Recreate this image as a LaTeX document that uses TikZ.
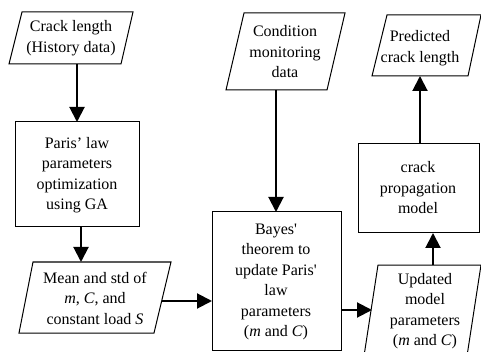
\documentclass[tikz,border=0pt]{standalone}
\usepackage{fontspec}
\setmainfont{Liberation Serif}
\usetikzlibrary{arrows.meta}
\begin{document}
\begin{tikzpicture}[x=1pt,y=-1pt,
  shape edge/.style={draw=black,line width=1pt,line join=miter},
  boxtext/.style={align=center,inner sep=0pt,font=\fontsize{16}{20.5}\selectfont},
  flow/.style={line width=2pt,-{Triangle[length=15pt,width=15pt]}}]
\useasboundingbox (0,0) rectangle (481,352);

% data inputs and outputs (parallelograms)
\draw[shape edge] (22,12) -- (133,12) -- (121,64) -- (9,64) -- cycle;
\node[boxtext] (hist) at (71,38) {Crack length\\(History data)};
\coordinate (histOut) at (77,64);

\draw[shape edge] (33,262) -- (171,262) -- (154,333) -- (19,333) -- cycle;
\node[boxtext] (meanstd) at (95,298) {Mean and std of\\\textit{m}, \textit{C}, and\\constant load \textit{S}};
\coordinate (meanIn) at (81,262);
\coordinate (meanOut) at (162,301);

\draw[shape edge] (244,13) -- (345,13) -- (327,90) -- (226,90) -- cycle;
\node[boxtext] (cmd) at (285,52) {Condition\\monitoring\\data};
\coordinate (cmdOut) at (276,90);

\draw[shape edge] (378,265) -- (481,265) -- (467,356) -- (364,356) -- cycle;
\node[boxtext] (upd) at (425,311) {Updated\\model\\parameters\\(\textit{m} and \textit{C})};
\coordinate (updIn) at (372,310);
\coordinate (updOut) at (433,265);

\draw[shape edge] (387,15) -- (481,15) -- (468,76) -- (372,76) -- cycle;
\node[boxtext] (pred) at (420,48) {Predicted\\crack length};
\coordinate (predIn) at (420,76);

% processing steps (rectangles)
\draw[shape edge] (15,122) rectangle (139,227);
\node[boxtext] (ga) at (77,175) {Paris’ law\\parameters\\optimization\\using GA};
\coordinate (gaIn) at (77,122);
\coordinate (gaOut) at (81,227);

\draw[shape edge] (212,212) rectangle (341,350);
\node[boxtext] (bayes) at (276,282) {Bayes\textquotesingle\\theorem to\\update Paris\textquotesingle\\law\\parameters\\(\textit{m} and \textit{C})};
\coordinate (bayesTop) at (276,212);
\coordinate (bayesLeft) at (212,301);
\coordinate (bayesRight) at (341,310);

\draw[shape edge] (358,144) rectangle (479,233);
\node[boxtext] (model) at (418,188) {crack\\propagation\\model};
\coordinate (modelBot) at (433,233);
\coordinate (modelTop) at (420,144);

% connectors
\draw[flow] (histOut) -- (gaIn);
\draw[flow] (gaOut) -- (meanIn);
\draw[flow] (meanOut) -- (bayesLeft);
\draw[flow] (cmdOut) -- (bayesTop);
\draw[flow] (bayesRight) -- (updIn);
\draw[flow] (updOut) -- (modelBot);
\draw[flow] (modelTop) -- (predIn);
\end{tikzpicture}
\end{document}
